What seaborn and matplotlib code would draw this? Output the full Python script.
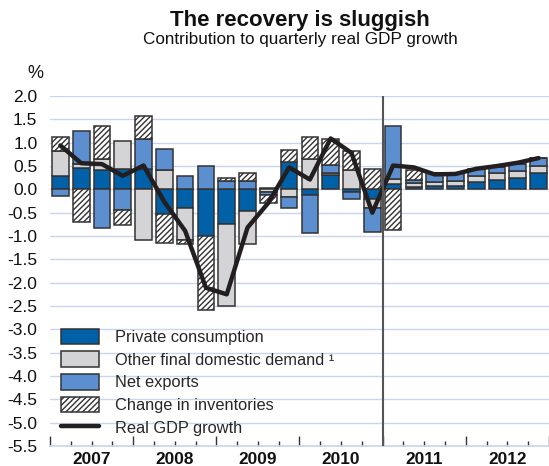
import numpy as np
import pandas as pd
import matplotlib
matplotlib.use("Agg")
import matplotlib.pyplot as plt
import seaborn as sns
from matplotlib.patches import Patch
from matplotlib.lines import Line2D

# ---------------- data ----------------
years = ["2007", "2008", "2009", "2010", "2011", "2012"]
quarters = [f"{y}Q{q}" for y in years for q in range(1, 5)]

private_consumption = [0.29, 0.46, 0.41, 0.44, 0.44, -0.52, -0.40, -1.00,
                       -0.75, -0.46, 0.02, 0.59, -0.13, 0.31, -0.06, -0.21,
                       0.11, 0.05, 0.07, 0.08, 0.16, 0.21, 0.25, 0.34]
other_domestic = [0.54, 0.08, 0.25, 0.59, -1.09, 0.41, -0.69, 0.0,
                  -1.75, -0.71, -0.06, -0.16, 0.66, 0.03, 0.41, -0.18,
                  0.11, 0.08, 0.09, 0.09, 0.13, 0.13, 0.14, 0.16]
net_exports = [-0.14, 0.70, -0.82, -0.45, 0.63, 0.46, 0.28, 0.50,
               0.18, 0.18, -0.07, -0.24, -0.81, 0.18, -0.14, -0.52,
               1.14, 0.07, 0.18, 0.17, 0.14, 0.14, 0.16, 0.18]
inventories = [0.29, -0.71, 0.69, -0.31, 0.51, -0.62, -0.09, -1.59,
               0.06, 0.16, -0.17, 0.26, 0.47, 0.55, 0.42, 0.44,
               -0.87, 0.22, 0.0, 0.0, 0.0, 0.0, 0.0, 0.0]
gdp_growth = [0.94, 0.56, 0.54, 0.29, 0.51, -0.27, -0.89, -2.11,
              -2.25, -0.82, -0.29, 0.47, 0.21, 1.09, 0.78, -0.50,
              0.51, 0.47, 0.32, 0.33, 0.44, 0.50, 0.57, 0.67]

series_labels = ["Private consumption", "Other final domestic demand \u00b9",
                 "Net exports", "Change in inventories"]
line_label = "Real GDP growth"

# ---------------- style ----------------
C_PC = "#0060a8"
C_OTHER = "#d4d4d6"
C_NX = "#5b8fcf"
C_INV = "#ffffff"
EDGE = "#333333"
GRID = "#c9d5ee"
LINE = "#231f20"

sns.set_theme(style="white")
plt.rcParams["font.family"] = ["Liberation Sans", "DejaVu Sans"]
plt.rcParams["hatch.linewidth"] = 1.0

fig = plt.figure(figsize=(5.49, 4.66), dpi=100)
ax = fig.add_axes([50 / 549, 1 - 446 / 466, 499 / 549, 350 / 466])

components = [
    (private_consumption, C_PC, None),
    (other_domestic, C_OTHER, None),
    (net_exports, C_NX, None),
    (inventories, C_INV, "//////"),
]

n = len(quarters)
pos = np.zeros(n)
neg = np.zeros(n)
for vals, color, hatch in components:
    v = np.asarray(vals, dtype=float)
    bottom = np.where(v >= 0, pos, neg)
    df = pd.DataFrame({"quarter": quarters, "value": v})
    kw = dict(hatch=hatch) if hatch else {}
    sns.barplot(data=df, x="quarter", y="value", order=quarters, ax=ax,
                bottom=bottom, width=0.8, color=color, saturation=1,
                edgecolor=EDGE, linewidth=1.1, errorbar=None, zorder=3, **kw)
    pos = pos + np.where(v >= 0, v, 0)
    neg = neg + np.where(v < 0, v, 0)

sns.lineplot(x=np.arange(n), y=gdp_growth, ax=ax, color=LINE, lw=3.2,
             zorder=5, legend=False)

# divider between outturn and projection
ax.axvline(15.5, color="#555555", lw=1.5, zorder=6)

# axes
ax.set_xlim(-0.5, n - 0.5)
ax.set_ylim(-5.5, 2.0)
yt = np.arange(-5.5, 2.01, 0.5)
ax.set_yticks(yt)
ax.set_yticklabels([f"{t:.1f}".replace("\u2212", "-") for t in yt])
ax.yaxis.grid(True, color=GRID, lw=1.0)
ax.set_axisbelow(True)
ax.set_xlabel("")
ax.set_ylabel("")

major = np.arange(-0.5, n, 4)
minor = np.arange(0.5, n - 0.5, 1)
ax.set_xticks(major)
ax.set_xticklabels([""] * len(major))
ax.set_xticks(minor, minor=True)
ax.tick_params(axis="x", which="major", direction="in", length=7, width=1,
               color="#333333", bottom=True)
ax.tick_params(axis="x", which="minor", direction="in", length=3.5, width=1,
               color="#333333", bottom=True)
ax.tick_params(axis="y", length=0, pad=9, labelsize=12.5, labelcolor="#111111")

for s in ["top", "right", "left"]:
    ax.spines[s].set_visible(False)
ax.spines["bottom"].set_color(GRID)
ax.spines["bottom"].set_linewidth(1.2)

xt = ax.get_xaxis_transform()
for i, yr in enumerate(years):
    ax.text(4 * i + 1.5, -0.016, yr, transform=xt, ha="center", va="top",
            fontsize=12.4, fontweight="bold", color="#111111")

# titles
fig.text(300 / 549, 1 - 20.7 / 466, "The recovery is sluggish", ha="center",
         va="center", fontsize=16, fontweight="bold", color="#111111")
fig.text(300 / 549, 1 - 39.3 / 466, "Contribution to quarterly real GDP growth",
         ha="center", va="center", fontsize=12.3, color="#111111")
fig.text(35 / 549, 1 - 73 / 466, "%", ha="center", va="center", fontsize=13,
         color="#111111")

# legend
handles = [
    Patch(facecolor=C_PC, edgecolor=EDGE, linewidth=1.1),
    Patch(facecolor=C_OTHER, edgecolor=EDGE, linewidth=1.1),
    Patch(facecolor=C_NX, edgecolor=EDGE, linewidth=1.1),
    Patch(facecolor=C_INV, edgecolor=EDGE, linewidth=1.1, hatch="//////"),
    Line2D([0], [0], color=LINE, lw=3.2),
]
ax.legend(handles, series_labels + [line_label], loc="upper left",
          bbox_to_anchor=(61 / 549, 1 - 328.5 / 466),
          bbox_transform=fig.transFigure, frameon=False, fontsize=11.8,
          handlelength=2.3, handleheight=1.1, handletextpad=1.0,
          labelspacing=0.38, borderpad=0, borderaxespad=0)

fig.savefig("out.png", dpi=100)
